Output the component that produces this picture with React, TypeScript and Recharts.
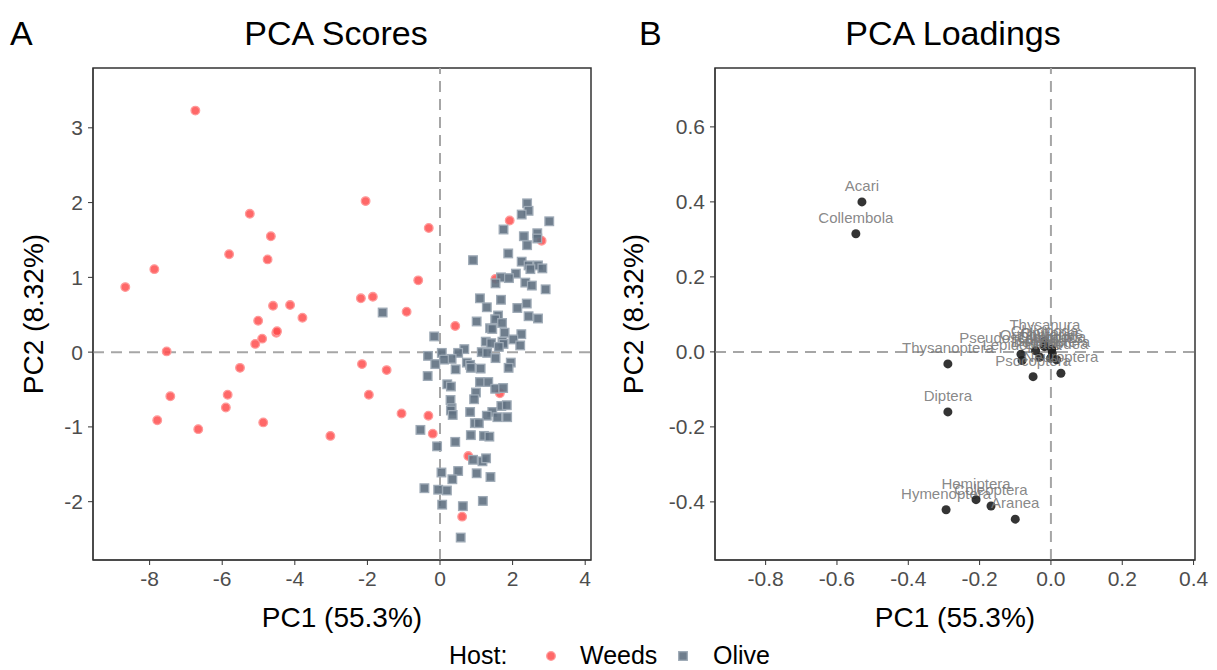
import React from 'react';
import {
  ScatterChart,
  Scatter,
  XAxis,
  YAxis,
  ReferenceLine,
  ReferenceArea
} from 'recharts';

// PCA scores
const weedsPc1 = [-6.74, -8.67, -7.87, -5.24, -5.81, -4.66, -4.75, -4.6, -4.13, -3.79, -5.01, -4.51, -4.49, -4.9, -5.09, -7.53, -5.51, -7.43, -5.85, -5.9, -7.79, -6.66, -4.87, -3.02, -2.05, -0.31, 1.92, 2.8, -0.6, -2.18, -1.85, -0.92, 1.53, 0.42, -2.15, -1.47, -1.96, -1.06, -0.32, -0.2, 1.65, 0.78, 0.61];
const weedsPc2 = [3.23, 0.87, 1.11, 1.85, 1.31, 1.55, 1.24, 0.62, 0.63, 0.46, 0.42, 0.26, 0.28, 0.18, 0.11, 0.01, -0.21, -0.59, -0.57, -0.74, -0.91, -1.03, -0.94, -1.12, 2.02, 1.66, 1.76, 1.49, 0.96, 0.72, 0.74, 0.54, 0.98, 0.35, -0.16, -0.24, -0.57, -0.82, -0.85, -1.09, -0.55, -1.39, -2.2];

const olivePc1 = [2.4, 2.44, 2.25, 3.01, 1.75, 2.68, 2.31, 2.68, 2.4, 1.88, 0.91, 2.25, 2.44, 2.7, 2.82, 2.49, 2.09, 1.68, 1.9, 1.53, 2.35, 2.53, 2.91, 1.1, 1.29, 1.68, 2.13, 2.39, -1.58, 1.6, 2.44, 2.7, 1.52, 1.01, 1.71, 1.38, 1.44, 1.78, 2.24, -0.16, 1.26, 1.41, 1.72, 1.75, 2.02, 2.21, 1.62, 0.67, 0.5, 1.15, 1.3, -0.33, 0.05, 0.32, 0.11, 1.53, -0.13, 0.74, 0.83, 0.85, 0.43, 1.12, 1.95, 1.89, -0.34, 1.1, 1.33, 0.2, 0.3, 1.52, 1.74, 0.99, 0.94, 0.29, 0.32, 0.3, 0.35, 0.83, 1.69, 1.84, 1.44, 1.29, 1.58, 1.85, -0.54, 0.96, 1.07, 0.85, 1.21, 1.36, 0.42, -0.08, 0.91, 1.17, 1.27, 0.04, 0.5, 1.01, 1.39, 0.34, -0.43, -0.05, 0.19, 0.06, 0.63, 1.18, 0.57];
const olivePc2 = [1.99, 1.89, 1.84, 1.75, 1.64, 1.59, 1.55, 1.52, 1.43, 1.32, 1.23, 1.21, 1.16, 1.16, 1.12, 1.11, 1.05, 1.0, 0.99, 0.92, 0.93, 0.89, 0.84, 0.72, 0.6, 0.7, 0.59, 0.65, 0.53, 0.49, 0.48, 0.45, 0.44, 0.41, 0.39, 0.32, 0.31, 0.26, 0.24, 0.21, 0.14, 0.12, 0.14, 0.11, 0.17, 0.09, 0.07, 0.04, -0.01, 0.0, -0.01, -0.05, -0.01, -0.09, -0.1, -0.08, -0.16, -0.14, -0.17, -0.21, -0.23, -0.22, -0.14, -0.21, -0.32, -0.4, -0.4, -0.43, -0.46, -0.49, -0.48, -0.54, -0.63, -0.64, -0.75, -0.78, -0.84, -0.8, -0.72, -0.71, -0.8, -0.85, -0.87, -0.87, -1.04, -0.95, -0.95, -1.11, -1.12, -1.13, -1.2, -1.26, -1.44, -1.46, -1.42, -1.61, -1.59, -1.62, -1.67, -1.7, -1.82, -1.84, -1.85, -2.04, -2.06, -1.99, -2.48];

// PCA loadings
const taxa = ['Acari', 'Collembola', 'Thysanoptera', 'Diptera', 'Hymenoptera', 'Hemiptera', 'Coleoptera', 'Aranea', 'Thysanura', 'Pseudoscorpiones', 'Lepidoptera', 'Orthoptera', 'Isopoda', 'Chilopoda', 'Opiliones', 'Diplopoda', 'Dermaptera', 'Blattodea', 'Psocoptera', 'Neuroptera'];
const loadPc1 = [-0.53, -0.547, -0.289, -0.289, -0.294, -0.21, -0.168, -0.1, -0.017, -0.084, -0.081, -0.043, -0.031, -0.018, 0.002, 0.004, -0.001, 0.016, -0.05, 0.028];
const loadPc2 = [0.4, 0.315, -0.032, -0.16, -0.421, -0.394, -0.411, -0.446, 0.029, -0.006, -0.023, 0.003, -0.014, 0.014, 0.007, -0.003, -0.017, -0.021, -0.066, -0.057];

const scoreXTicks = [-8, -6, -4, -2, 0, 2, 4];
const scoreYTicks = [-2, -1, 0, 1, 2, 3];
const loadXTicks = [-0.8, -0.6, -0.4, -0.2, 0, 0.2, 0.4];
const loadYTicks = [-0.4, -0.2, 0, 0.2, 0.4, 0.6];

const weeds = weedsPc1.map((v, i) => ({ pc1: v, pc2: weedsPc2[i] }));
const olive = olivePc1.map((v, i) => ({ pc1: v, pc2: olivePc2[i] }));
const loadings = taxa.map((t, i) => ({ taxon: t, pc1: loadPc1[i], pc2: loadPc2[i] }));

const FONT = 'Liberation Sans, Arial, sans-serif';
const tickStyle = { fill: '#4d4d4d', fontSize: 21, fontFamily: FONT };

const WeedDot = (p: any) => (
  <circle cx={p.cx} cy={p.cy} r={4.3} fill="#ff4d4d" fillOpacity={0.85} stroke="#ff9a9a" strokeWidth={1.3} />
);
const OliveDot = (p: any) => (
  <rect x={p.cx - 4.3} y={p.cy - 4.3} width={8.6} height={8.6} fill="#5f7081" fillOpacity={0.9} stroke="#9eaab6" strokeWidth={1.3} />
);
const LoadDot = (p: any) => (
  <g>
    <circle cx={p.cx} cy={p.cy} r={4.5} fill="#1e1e1e" fillOpacity={0.9} />
    <text x={p.cx} y={p.cy - 11} textAnchor="middle" fontSize={15} fontFamily={FONT} fill="#7a7a7a" fillOpacity={0.9}>
      {p.payload.taxon}
    </text>
  </g>
);

const dash = { stroke: '#a6a6a6', strokeWidth: 2, strokeDasharray: '11 7' };

export default function App() {
  return (
    <div style={{ position: 'absolute', left: 0, top: 0, width: 1217, height: 670, background: '#fff', overflow: 'hidden' }}>
      <div style={{ position: 'absolute', left: 0, top: 0 }}>
        <ScatterChart width={610} height={600} margin={{ top: 68, right: 19, bottom: 10, left: 33 }}>
          <XAxis dataKey="pc1" type="number" domain={[-9.56, 4.16]} ticks={scoreXTicks} allowDataOverflow
            tick={tickStyle} tickSize={5} tickMargin={6} height={30} axisLine={{ stroke: '#333' }} tickLine={{ stroke: '#333' }} />
          <YAxis dataKey="pc2" type="number" domain={[-2.78, 3.8]} ticks={scoreYTicks} allowDataOverflow
            tick={tickStyle} tickSize={5} tickMargin={5} width={60} axisLine={{ stroke: '#333' }} tickLine={{ stroke: '#333' }} />
          <ReferenceLine x={0} {...dash} />
          <ReferenceLine y={0} {...dash} />
          <Scatter data={weeds} shape={WeedDot} isAnimationActive={false} />
          <Scatter data={olive} shape={OliveDot} isAnimationActive={false} />
          <ReferenceArea x1={-9.56} x2={4.16} y1={-2.78} y2={3.8} fill="none" fillOpacity={0} stroke="#333" strokeWidth={1.5} />
        </ScatterChart>
      </div>
      <div style={{ position: 'absolute', left: 620, top: 0 }}>
        <ScatterChart width={597} height={600} margin={{ top: 68, right: 22, bottom: 10, left: 25 }}>
          <XAxis dataKey="pc1" type="number" domain={[-0.942, 0.404]} ticks={loadXTicks} allowDataOverflow
            tickFormatter={(v: number) => v.toFixed(1)}
            tick={tickStyle} tickSize={5} tickMargin={6} height={30} axisLine={{ stroke: '#333' }} tickLine={{ stroke: '#333' }} />
          <YAxis dataKey="pc2" type="number" domain={[-0.555, 0.757]} ticks={loadYTicks} allowDataOverflow
            tickFormatter={(v: number) => v.toFixed(1)}
            tick={tickStyle} tickSize={5} tickMargin={5} width={70} axisLine={{ stroke: '#333' }} tickLine={{ stroke: '#333' }} />
          <ReferenceLine x={0} {...dash} />
          <ReferenceLine y={0} {...dash} />
          <Scatter data={loadings} shape={LoadDot} isAnimationActive={false} />
          <ReferenceArea x1={-0.942} x2={0.404} y1={-0.555} y2={0.757} fill="none" fillOpacity={0} stroke="#333" strokeWidth={1.5} />
        </ScatterChart>
      </div>
      <svg width={1217} height={670} style={{ position: 'absolute', left: 0, top: 0, pointerEvents: 'none' }} fontFamily={FONT}>
        <text x={10} y={45} fontSize={34} fill="#000">A</text>
        <text x={639} y={45} fontSize={34} fill="#000">B</text>
        <text x={336} y={45} fontSize={34} textAnchor="middle" fill="#000">PCA Scores</text>
        <text x={953} y={45} fontSize={34} textAnchor="middle" fill="#000">PCA Loadings</text>
        <text x={342} y={627} fontSize={28} textAnchor="middle" fill="#000">PC1 (55.3%)</text>
        <text x={955} y={627} fontSize={28} textAnchor="middle" fill="#000">PC1 (55.3%)</text>
        <text transform="translate(43,314) rotate(-90)" fontSize={28} textAnchor="middle" fill="#000">PC2 (8.32%)</text>
        <text transform="translate(643,314) rotate(-90)" fontSize={28} textAnchor="middle" fill="#000">PC2 (8.32%)</text>
        <text x={449} y={664} fontSize={25} fill="#000">Host:</text>
        <circle cx={551} cy={656} r={4.3} fill="#ff4d4d" fillOpacity={0.85} stroke="#ff9a9a" strokeWidth={1.3} />
        <text x={580} y={664} fontSize={25} fill="#000">Weeds</text>
        <rect x={678.7} y={651.7} width={8.6} height={8.6} fill="#5f7081" fillOpacity={0.9} stroke="#9eaab6" strokeWidth={1.3} />
        <text x={713} y={664} fontSize={25} fill="#000">Olive</text>
      </svg>
    </div>
  );
}
